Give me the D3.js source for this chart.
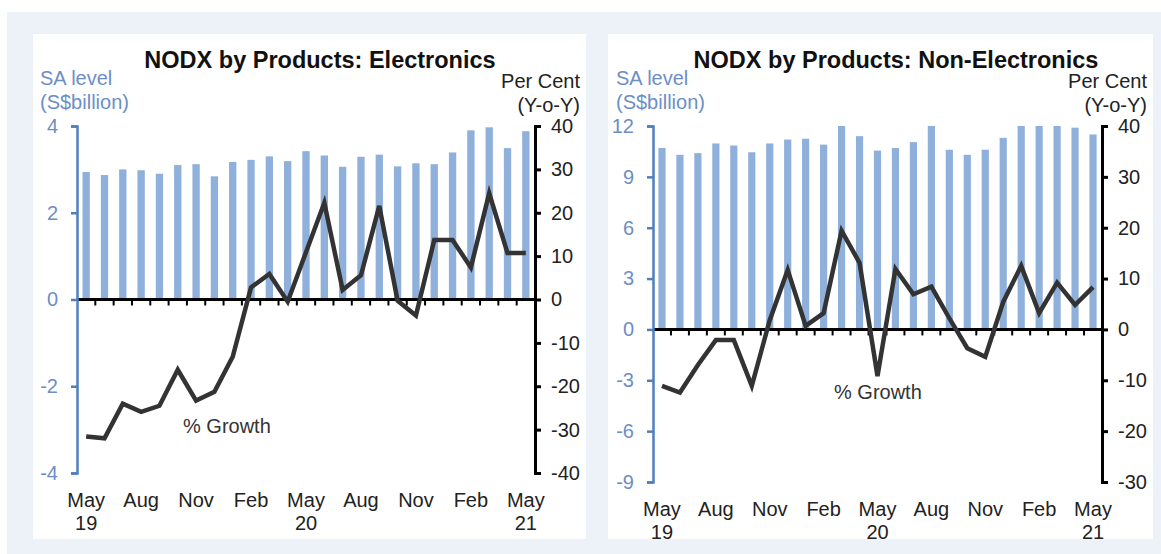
<!DOCTYPE html>
<html>
<head>
<meta charset="utf-8">
<script src="https://cdn.jsdelivr.net/npm/d3@7"></script>
<style>
body { margin: 0; background: #fff; }
text { font-family: "Liberation Sans", Arial, sans-serif; }
</style>
</head>
<body>
<svg id="svg" width="1161" height="554"></svg>
<script>
// months May 19 .. May 21
var months = ["May-19","Jun-19","Jul-19","Aug-19","Sep-19","Oct-19","Nov-19","Dec-19","Jan-20","Feb-20","Mar-20","Apr-20",
    "May-20","Jun-20","Jul-20","Aug-20","Sep-20","Oct-20","Nov-20","Dec-20","Jan-21","Feb-21","Mar-21","Apr-21","May-21"];
var monthLabels = ["May","Aug","Nov","Feb","May","Aug","Nov","Feb","May"];
var yearLabels = ["19","","","","20","","","","21"];

// electronics
var elecLevel = [2.94, 2.87, 3.0, 2.98, 2.9, 3.1, 3.12, 2.84, 3.17, 3.22, 3.3, 3.19,
    3.42, 3.32, 3.06, 3.29, 3.34, 3.07, 3.14, 3.12, 3.39, 3.9, 3.97, 3.49, 3.88];
var elecGrowth = [-31.6, -32, -24, -25.9, -24.5, -16.2, -23.3, -21.3, -13.2, 2.8, 5.9, -0.5,
    10.9, 22.3, 2.2, 5.6, 21.6, -0.3, -3.7, 13.7, 13.7, 7.4, 24.5, 10.7, 10.7];
var elecLeftTicks = [-4, -2, 0, 2, 4];
var elecRightTicks = [-40, -30, -20, -10, 0, 10, 20, 30, 40];

// non-electronics
var nonElecLevel = [10.7, 10.3, 10.4, 10.97, 10.85, 10.45, 10.97, 11.2, 11.25, 10.9, 12.0, 11.4,
    10.55, 10.7, 11.05, 12.0, 10.6, 10.3, 10.6, 11.3, 12.0, 12.0, 12.0, 11.9, 11.5];
var nonElecGrowth = [-11.1, -12.4, -7, -2.1, -2.1, -11.1, 1.8, 11.7, 0.7, 3.2, 19.4, 13.1,
    -9.2, 11.9, 6.9, 8.4, 2.2, -3.7, -5.4, 5.4, 12.5, 3.2, 9.2, 4.8, 8.3];
var nonElecLeftTicks = [-9, -6, -3, 0, 3, 6, 9, 12];
var nonElecRightTicks = [-30, -20, -10, 0, 10, 20, 30, 40];

var barColor = "#8fb0da";
var blueAxis = "#4f7fbd";
var blueText = "#6d8ec5";

var svg = d3.select("#svg");

//background
svg.append("rect").attr("x",7).attr("y",12).attr("width",1154).attr("height",542).attr("fill","#edf2f9");

//plain hyphen for negatives like the original
function fmt(d) { return String(d); }

function drawPanel(p) {
    svg.append("rect").attr("x",p.px).attr("y",34).attr("width",p.pw).attr("height",505).attr("fill","#fff");

    var xScale = d3.scaleBand().domain(months).range([p.x0,p.x1]);
    var yL = d3.scaleLinear().domain([d3.min(p.leftTicks),d3.max(p.leftTicks)]).range([p.bottom,126]);
    var yR = d3.scaleLinear().domain([d3.min(p.rightTicks),d3.max(p.rightTicks)]).range([p.bottom,126]);
    var bw = xScale.bandwidth()*0.4;

    //title
    svg.append("text").attr("x",p.titleX).attr("y",68).attr("text-anchor","middle")
        .style("font-size","23.5px").style("font-weight","bold").attr("fill","#111").text(p.title);
    svg.append("text").attr("x",p.x0-37).attr("y",85).style("font-size","20px").attr("fill",blueText).text("SA level");
    svg.append("text").attr("x",p.x0-37).attr("y",109).style("font-size","20px").attr("fill",blueText).text("(S$billion)");
    svg.append("text").attr("x",p.x1+45).attr("y",88).attr("text-anchor","end").style("font-size","20px").attr("fill","#222").text("Per Cent");
    svg.append("text").attr("x",p.x1+45).attr("y",112).attr("text-anchor","end").style("font-size","20px").attr("fill","#222").text("(Y-o-Y)");

    //bars
    svg.append("g").selectAll("rect").data(p.level).enter()
        .append("rect")
        .attr("x",function(d,i){ return xScale(months[i]) + (xScale.bandwidth()-bw)/2; })
        .attr("y",function(d){ return yL(d); })
        .attr("width",bw)
        .attr("height",function(d){ return yL(0)-yL(d); })
        .attr("fill",barColor);

    //zero axis with ticks between months
    var zero = yL(0);
    var xAxis = svg.append("g");
    xAxis.append("line").attr("x1",p.x0).attr("x2",p.x1).attr("y1",zero).attr("y2",zero)
        .attr("stroke","#000").attr("stroke-width",3);
    xAxis.selectAll(".tk").data(months.slice(1)).enter().append("line")
        .attr("x1",function(d){ return xScale(d); }).attr("x2",function(d){ return xScale(d); })
        .attr("y1",zero).attr("y2",zero+6).attr("stroke","#000").attr("stroke-width",2);

    //month labels
    var lblMonths = months.filter(function(d,i){ return i%3==0; });
    svg.append("g").selectAll("text").data(lblMonths).enter().append("text")
        .attr("x",function(d){ return xScale(d)+xScale.bandwidth()/2; })
        .attr("y",p.bottom+34).attr("text-anchor","middle").style("font-size","20px").attr("fill","#222")
        .text(function(d,i){ return monthLabels[i]; });
    svg.append("g").selectAll("text").data(lblMonths).enter().append("text")
        .attr("x",function(d){ return xScale(d)+xScale.bandwidth()/2; })
        .attr("y",p.bottom+57).attr("text-anchor","middle").style("font-size","20px").attr("fill","#222")
        .text(function(d,i){ return yearLabels[i]; });

    //left axis
    var yAxisL = svg.append("g").attr("transform","translate("+p.x0+",0)")
        .call(d3.axisLeft(yL).tickValues(p.leftTicks).tickFormat(fmt).tickSize(6).tickPadding(13));
    yAxisL.select(".domain").attr("stroke",blueAxis).attr("stroke-width",2.5);
    yAxisL.selectAll(".tick line").attr("stroke",blueAxis).attr("stroke-width",2.5);
    yAxisL.selectAll(".tick text").attr("fill",blueText).style("font-size","20px").style("font-family","Liberation Sans, Arial");

    //right axis
    var yAxisR = svg.append("g").attr("transform","translate("+p.x1+",0)")
        .call(d3.axisRight(yR).tickValues(p.rightTicks).tickFormat(fmt).tickSize(6).tickPadding(10));
    yAxisR.select(".domain").attr("stroke","#000").attr("stroke-width",3);
    yAxisR.selectAll(".tick line").attr("stroke","#000").attr("stroke-width",3);
    yAxisR.selectAll(".tick text").attr("fill","#222").style("font-size","20px").style("font-family","Liberation Sans, Arial");

    //growth line
    var line = d3.line()
        .x(function(d,i){ return xScale(months[i])+xScale.bandwidth()/2; })
        .y(function(d){ return yR(d); });
    svg.append("path").datum(p.growth).attr("d",line).attr("fill","none")
        .attr("stroke","#333").attr("stroke-width",4.5).attr("stroke-linejoin","miter");

    svg.append("text").attr("x",p.growthX).attr("y",p.growthY).style("font-size","20px").attr("fill","#333").text("% Growth");
}

drawPanel({px:33, pw:553, x0:77, x1:535, bottom:473, title:"NODX by Products: Electronics", titleX:320,
    level:elecLevel, growth:elecGrowth, leftTicks:elecLeftTicks, rightTicks:elecRightTicks, growthX:183, growthY:433});
drawPanel({px:608, pw:545, x0:653, x1:1102, bottom:482, title:"NODX by Products: Non-Electronics", titleX:896,
    level:nonElecLevel, growth:nonElecGrowth, leftTicks:nonElecLeftTicks, rightTicks:nonElecRightTicks, growthX:834, growthY:399});
</script>
</body>
</html>
